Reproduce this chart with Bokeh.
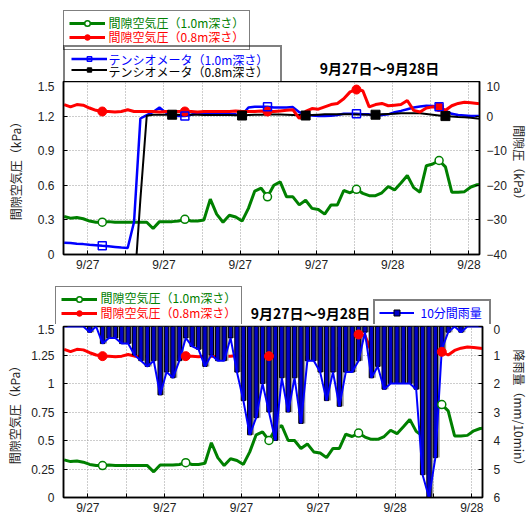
import math
import numpy as np
from bokeh.plotting import figure
from bokeh.models import (Range1d, LinearAxis, FixedTicker, Legend, LegendItem,
                          Label, ColumnDataSource)
from bokeh.layouts import column, row
from bokeh.transform import dodge
from bokeh.embed import file_html
from bokeh.resources import INLINE

# ---------------- data (30-min samples, hours from 9/27 00:00) ----------------
T0 = -1.85
STEP = 0.5

air_10m = [0.33, 0.315, 0.32, 0.31, 0.29, 0.28, 0.28, 0.285, 0.28, 0.28,
           0.28, 0.28, 0.28, 0.28, 0.225, 0.285, 0.285, 0.285, 0.29, 0.305,
           0.29, 0.29, 0.30, 0.48, 0.35, 0.28, 0.34, 0.325, 0.29, 0.40,
           0.55, 0.575, 0.50, 0.60, 0.63, 0.50, 0.50, 0.43, 0.47, 0.40,
           0.39, 0.35, 0.43, 0.43, 0.555, 0.535, 0.565, 0.53, 0.51, 0.51,
           0.535, 0.59, 0.56, 0.62, 0.685, 0.58, 0.54, 0.77, 0.785, 0.815,
           0.76, 0.54, 0.54, 0.545, 0.585, 0.605, 0.61]

air_08m = [1.30, 1.28, 1.30, 1.295, 1.27, 1.25, 1.24, 1.24, 1.235, 1.24,
           1.255, 1.24, 1.24, 1.24, 1.24, 1.235, 1.24, 1.24, 1.24, 1.24,
           1.24, 1.235, 1.24, 1.24, 1.24, 1.24, 1.24, 1.245, 1.24, 1.24,
           1.24, 1.245, 1.24, 1.24, 1.245, 1.25, 1.255, 1.18, 1.24, 1.265,
           1.26, 1.28, 1.30, 1.31, 1.35, 1.41, 1.43, 1.42, 1.28, 1.30,
           1.31, 1.29, 1.295, 1.30, 1.335, 1.25, 1.235, 1.27, 1.28, 1.278,
           1.25, 1.29, 1.31, 1.32, 1.315, 1.31, 1.305]

tensio_10m = [-36.6, -36.7, -36.9, -37.0, -37.2, -37.3, -37.5, -37.6, -37.8, -38.0,
              -38.1, -30.6, -0.7, 0.3, 1.2, 2.5, 1.0, 0.5, 0.0, 0.0,
              0.4, 0.9, 0.7, 0.56, 0.5, 0.5, 0.6, 0.5, 0.27, 2.5,
              2.7, 2.7, 2.7, 2.5, 2.5, 2.5, 2.6, 1.1, 0.67, 0.17,
              0.0, 0.0, 0.1, 0.3, 0.67, 0.67, 0.67, 0.55, 0.5, 0.0,
              0.3, 0.5, 1.1, 1.5, 2.0, 2.5, 2.8, 3.0, 2.9, 2.7,
              1.6, 0.67, 0.3, 0.2, 0.0, 0.0, 0.0]

NA = float("nan")
tensio_08m = [NA, NA, NA, NA, NA, NA, NA, NA, NA, NA,
              NA, -50.7, -24.0, 0.1, 0.4, 0.4, 0.4, 0.4, 0.4, 0.4,
              0.4, 0.4, 0.35, 0.35, 0.3, 0.3, 0.3, 0.25, 0.17, 0.3,
              0.4, 0.4, 0.45, 0.45, 0.45, 0.4, 0.35, 0.3, 0.17, 0.3,
              0.4, 0.5, 0.5, 0.55, 0.5, 0.5, 0.45, 0.45, 0.4, 0.4,
              0.5, 0.6, 0.7, 0.8, 0.85, 0.85, 0.8, 0.6, 0.4, 0.2,
              0.0, -0.1, -0.25, -0.35, -0.5, -0.7, -0.8]

rain_10min = [0, 0, 0, 0, 0.2, 0, 0.6, 0.4, 0.4, 0.6,
              0.6, 1.0, 1.2, 1.4, 1.2, 2.4, 1.6, 1.8, 1.2, 0.4,
              0.7, 0.8, 1.4, 1.0, 1.2, 1.2, 0.4, 1.6, 2.6, 3.8,
              3.2, 2.0, 3.0, 4.0, 1.8, 3.0, 1.8, 3.4, 1.2, 1.2,
              1.6, 2.6, 1.6, 2.8, 1.6, 1.6, 1.2, 0.2, 1.8, 1.4,
              2.2, 2.0, 2.0, 2.0, 2.0, 2.2, 5.2, 6.0, 4.6, 0.8,
              0.2, 0, 0.2, 0, 0, 0, 0]

times = [T0 + STEP * i for i in range(len(air_10m))]

marker_idx = [6, 19, 32, 46, 59]      # circle / open-square markers
black_idx = [17, 28, 38, 49, 60]      # filled black squares

x_ticks = [0, 6, 12, 18, 24, 30]
x_minor = [3, 9, 15, 21, 27]
x_labels = ["9/27", "9/27", "9/27", "9/27", "9/28", "9/28"]

top_left_ticks = [0, 0.3, 0.6, 0.9, 1.2, 1.5]
top_left_labels = ["0", "0.3", "0.6", "0.9", "1.2", "1.5"]
top_right_ticks = [-40, -30, -20, -10, 0, 10]
bot_left_ticks = [0, 0.25, 0.5, 0.75, 1.0, 1.25, 1.5]
bot_left_labels = ["0", "0.25", "0.5", "0.75", "1", "1.25", "1.5"]
bot_right_ticks = [0, 1, 2, 3, 4, 5, 6]

LBL_GREEN = "間隙空気圧（1.0m深さ）"
LBL_RED = "間隙空気圧（0.8m深さ）"
LBL_BLUE = "テンシオメータ（1.0m深さ）"
LBL_BLACK = "テンシオメータ（0.8m深さ）"
LBL_RAIN = "10分間雨量"
TITLE = "9月27日～9月28日"
Y_LEFT = "間隙空気圧（kPa）"
Y_RIGHT_TOP = "間隙圧（kPa）"
Y_RIGHT_BOT = "降雨量（mm/10min）"

# ---------------- styling ----------------
GREEN = "#008000"
RED = "#ff0000"
BLUE = "#0000ff"
BAR_BLUE = "#0000c8"
JP = "Noto Sans CJK JP"
NUM = "Liberation Sans"
GRID = "#9a9a9a"
W = 528
SW = 19          # width of the strip holding the right-hand axis title
PW = W - SW      # width of each chart figure
FRAME_L, FRAME_R = 63, 482
LEG_DY = 3       # measured offset of Bokeh legend boxes

src = ColumnDataSource(dict(t=times, g=air_10m, r=air_08m,
                            b=np.array(tensio_10m), k=np.array(tensio_08m),
                            rain=rain_10min))
msrc = ColumnDataSource(dict(t=[times[i] for i in marker_idx],
                             g=[air_10m[i] for i in marker_idx],
                             r=[air_08m[i] for i in marker_idx],
                             b=[tensio_10m[i] for i in marker_idx]))
ksrc = ColumnDataSource(dict(t=[times[i] for i in black_idx],
                             k=[tensio_08m[i] for i in black_idx]))

XR = Range1d(-1.9, 30.83)

STY_G_LINE = dict(line_color=GREEN, line_width=3)
STY_R_LINE = dict(line_color=RED, line_width=3)
STY_B_LINE = dict(line_color=BLUE, line_width=2.5)
STY_K_LINE = dict(line_color="black", line_width=2)
STY_RAIN_LINE = dict(line_color=BLUE, line_width=2)
STY_G_MARK = dict(marker="circle", size=8, fill_color="white", line_color=GREEN, line_width=1.5)
STY_R_MARK = dict(marker="circle", size=9, fill_color=RED, line_color=RED)
STY_B_MARK = dict(marker="square", size=8, fill_alpha=0, line_color=BLUE, line_width=1.5)
STY_K_MARK = dict(marker="square", size=9, fill_color="black", line_color="black")
STY_RAIN_MARK = dict(marker="square", size=10, fill_color=BAR_BLUE, line_color="black")


def style_axis(ax, standoff):
    ax.axis_line_color = "black"
    ax.axis_line_width = 1.5
    ax.major_tick_in = 4
    ax.major_tick_out = 0
    ax.major_tick_line_color = "black"
    ax.minor_tick_line_color = None
    ax.major_label_text_font = NUM
    ax.major_label_text_font_size = "12px"
    ax.major_label_text_color = "#222222"
    ax.major_label_standoff = standoff
    ax.axis_label_text_font = JP
    ax.axis_label_text_font_size = "12px"
    ax.axis_label_text_font_style = "normal"
    ax.axis_label_text_color = "#222222"


def setup(p, yticks, ylabels, ylabel, lstand, rname, rticks, rstand):
    xt = FixedTicker(ticks=x_ticks, minor_ticks=x_minor)
    xa = p.xaxis[0]
    style_axis(xa, 3)
    xa.ticker = xt
    xa.minor_tick_in = 4
    xa.minor_tick_out = 0
    xa.minor_tick_line_color = "black"
    xa.major_label_overrides = dict(zip(x_ticks, x_labels))
    ya = p.yaxis[0]
    style_axis(ya, 9)
    yt = FixedTicker(ticks=yticks)
    ya.ticker = yt
    ya.major_label_overrides = dict(zip(yticks, ylabels))
    ya.axis_label = ylabel
    ya.axis_label_standoff = lstand
    ra = LinearAxis(y_range_name=rname, ticker=FixedTicker(ticks=rticks))
    style_axis(ra, rstand)
    p.add_layout(ra, "right")
    p.xgrid.ticker = xt
    p.ygrid.ticker = yt
    for g in (p.xgrid[0], p.ygrid[0]):
        g.grid_line_color = GRID
        g.grid_line_dash = "1 2"
        g.grid_line_width = 1
    p.xgrid.minor_grid_line_color = GRID
    p.xgrid.minor_grid_line_dash = "1 2"
    p.outline_line_color = "black"
    p.outline_line_width = 1.5
    p.background_fill_color = "white"
    p.border_fill_color = "white"


def blank(width, height, top=0, bottom=0):
    h = figure(width=width, height=height, x_range=Range1d(0, width),
               y_range=Range1d(0, height - top - bottom),
               output_backend="svg", toolbar_location=None, title=None,
               x_axis_location=None, y_axis_location=None, min_border=0,
               min_border_top=top, min_border_bottom=bottom)
    h.grid.visible = False
    h.outline_line_color = None
    return h


def sample(h, kind, style):
    # legend-only sample renderer (a single NaN row, draws nothing in the strip)
    if kind == "line":
        return h.line(x=[NA], y=[NA], **style)
    return h.scatter(x=[NA], y=[NA], **style)


def txt(p, height, x, y, text, color="#111111", size="12px", align="left", bold=False,
        angle=0.0):
    # x, y: pixel position inside this strip's frame (y measured from its top)
    p.add_layout(Label(x=x, y=height - y, x_units="screen", y_units="screen", text=text,
                       text_color=color, text_font=JP, text_font_size=size,
                       text_align=align, text_baseline="middle", angle=angle,
                       text_font_style="bold" if bold else "normal"))


def box_legend(p, height, items, left, bottom, pad, gw, gh, lw, bw, spacing=0):
    # legend tuple location = bottom-left corner of the box
    lg = Legend(items=items, location=(left, height - bottom - LEG_DY), padding=pad,
                spacing=spacing, margin=0, glyph_width=gw, glyph_height=gh,
                label_height=gh, label_width=lw, label_standoff=2,
                label_text_font_size="1px", label_text_alpha=0,
                border_line_color="black", border_line_width=bw,
                background_fill_alpha=0.0)
    p.add_layout(lg)


# ---------------- header 1 (legends + title of the upper chart) ----------------
H1 = 81
h1 = blank(W, H1)
dg = sample(h1, "line", STY_G_LINE)
dgm = sample(h1, "mark", STY_G_MARK)
dr = sample(h1, "line", STY_R_LINE)
drm = sample(h1, "mark", STY_R_MARK)
db = sample(h1, "line", STY_B_LINE)
dbm = sample(h1, "mark", STY_B_MARK)
dk = sample(h1, "line", STY_K_LINE)
dkm = sample(h1, "mark", STY_K_MARK)
box_legend(h1, H1, [LegendItem(label=" ", renderers=[dg, dgm]),
                    LegendItem(label=" ", renderers=[dr, drm])],
           63, 47, 5, 36, 14, 137, 1)
box_legend(h1, H1, [LegendItem(label=" ", renderers=[db, dbm]),
                    LegendItem(label=" ", renderers=[dk, dkm])],
           63, 80, 6, 36, 11, 165, 2)
txt(h1, H1, 108, 21.5, LBL_GREEN, GREEN)
txt(h1, H1, 108, 35.5, LBL_RED, RED)
txt(h1, H1, 108, 59, LBL_BLUE, BLUE)
txt(h1, H1, 108, 70.5, LBL_BLACK, "black")
txt(h1, H1, 379, 67, TITLE, "black", "14px", align="center", bold=True)

# ---------------- upper chart ----------------
P1H, P1T, P1B = 200, 0, 27
p1 = figure(width=PW, height=P1H, x_range=XR, y_range=Range1d(0, 1.5),
            output_backend="svg", toolbar_location=None, title=None,
            min_border_left=FRAME_L, min_border_right=PW - FRAME_R,
            min_border_top=P1T, min_border_bottom=P1B)
p1.extra_y_ranges = {"tens": Range1d(-40, 10)}
setup(p1, top_left_ticks, top_left_labels, Y_LEFT, 11, "tens", top_right_ticks, 7)

p1.line("t", "g", source=src, **STY_G_LINE)
p1.line("t", "b", source=src, y_range_name="tens", **STY_B_LINE)
p1.line("t", "k", source=src, y_range_name="tens", **STY_K_LINE)
p1.line("t", "r", source=src, **STY_R_LINE)
p1.scatter("t", "g", source=msrc, **STY_G_MARK)
p1.scatter("t", "r", source=msrc, **STY_R_MARK)
p1.scatter("t", "b", source=msrc, y_range_name="tens", **STY_B_MARK)
p1.scatter("t", "k", source=ksrc, y_range_name="tens", **STY_K_MARK)

# right-hand axis title strip for the upper chart (frame spans the chart's frame rows)
s1 = blank(SW, P1H, P1T, P1B)
F1 = P1H - P1T - P1B
txt(s1, F1, SW / 2, 165 - 81, Y_RIGHT_TOP, "#222222", align="center", angle=-math.pi / 2)

# ---------------- header 2 (legends + title of the lower chart) ----------------
H2 = 43
Y2 = 281  # page y of this strip's top
h2 = blank(W, H2)
eg = sample(h2, "line", STY_G_LINE)
egm = sample(h2, "mark", STY_G_MARK)
er = sample(h2, "line", STY_R_LINE)
erm = sample(h2, "mark", STY_R_MARK)
erain = sample(h2, "line", STY_RAIN_LINE)
erainm = sample(h2, "mark", STY_RAIN_MARK)
box_legend(h2, H2, [LegendItem(label=" ", renderers=[eg, egm]),
                    LegendItem(label=" ", renderers=[er, erm])],
           55, 323 - Y2, 5, 36, 14, 137, 1)
box_legend(h2, H2, [LegendItem(label=" ", renderers=[erain, erainm])],
           373, 323 - Y2, 4, 35, 15, 69, 2)
txt(h2, H2, 100, 297 - Y2, LBL_GREEN, GREEN)
txt(h2, H2, 100, 311.5 - Y2, LBL_RED, RED)
txt(h2, H2, 420, 312 - Y2, LBL_RAIN, BLUE)
txt(h2, H2, 310, 312 - Y2, TITLE, "black", "14px", align="center", bold=True)

# ---------------- lower chart ----------------
P2H, P2T, P2B = 193, 2, 18
p2 = figure(width=PW, height=P2H, x_range=XR, y_range=Range1d(0, 1.5),
            output_backend="svg", toolbar_location=None, title=None,
            min_border_left=FRAME_L, min_border_right=PW - FRAME_R,
            min_border_top=P2T, min_border_bottom=P2B)
p2.extra_y_ranges = {"rain": Range1d(6, 0)}
setup(p2, bot_left_ticks, bot_left_labels, Y_LEFT, 5, "rain", bot_right_ticks, 11)

p2.line("t", "g", source=src, **STY_G_LINE)
p2.line("t", "r", source=src, **STY_R_LINE)
BAR_W = 0.34
p2.vbar(x=dodge("t", 0.17, range=p2.x_range), width=BAR_W, top=0, bottom="rain",
        source=src, y_range_name="rain", fill_color="#9a9a9a", line_color=None)
p2.vbar(x="t", width=BAR_W, top=0, bottom="rain", source=src, y_range_name="rain",
        fill_color=BAR_BLUE, line_color="black", line_width=1)
p2.line("t", "rain", source=src, y_range_name="rain", **STY_RAIN_LINE)
p2.scatter("t", "g", source=msrc, **STY_G_MARK)
p2.scatter("t", "r", source=msrc, **STY_R_MARK)

s2 = blank(SW, P2H, P2T, P2B)
F2 = P2H - P2T - P2B
txt(s2, F2, SW / 2, 412 - 326, Y_RIGHT_BOT, "#222222", align="center", angle=-math.pi / 2)

layout = column(row(h1), row(p1, s1), row(h2), row(p2, s2), spacing=0)
open("out.html", "w").write(file_html(layout, INLINE))
